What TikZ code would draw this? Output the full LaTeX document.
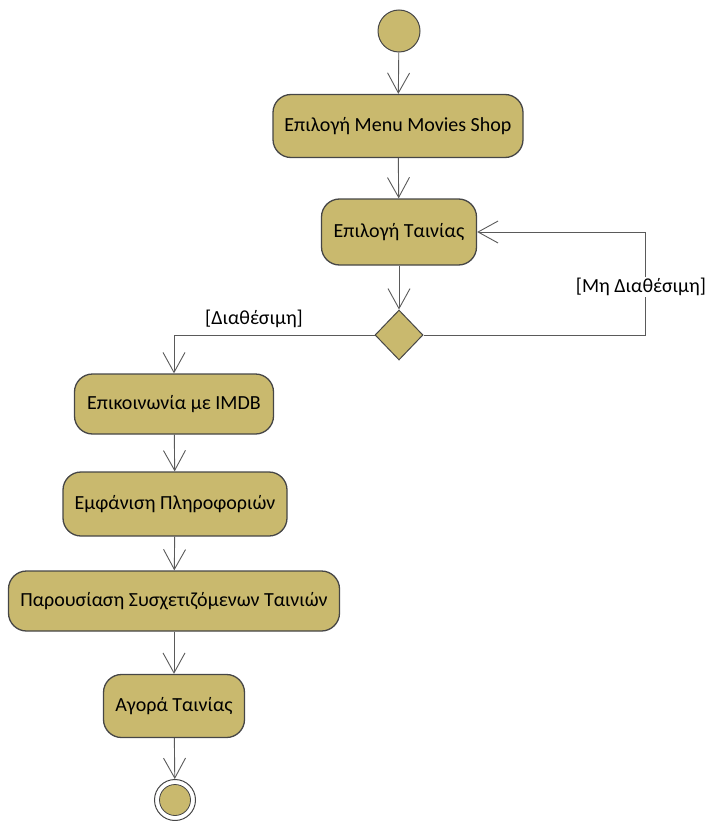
\documentclass[tikz,border=0pt]{standalone}
\usepackage{fontspec}
\setmainfont{Carlito}
\usetikzlibrary{arrows.meta,shapes.geometric}
\definecolor{actfill}{RGB}{201,185,110}
\definecolor{edgecol}{RGB}{70,70,70}
\definecolor{linecol}{RGB}{90,90,90}
\tikzset{
  act/.style={draw=edgecol, line width=1.3pt, fill=actfill, rounded corners=18pt,
    inner sep=0pt, font=\fontsize{20}{24}\selectfont, text=black},
  flow/.style={draw=linecol, line width=0.9pt, -{Straight Barb[length=20pt,width=22pt,line width=0.9pt]}},
  guard/.style={font=\fontsize{20}{24}\selectfont, inner sep=1.5pt, text=black},
  startnode/.style={circle, draw=edgecol, line width=1pt, fill=actfill, minimum size=42pt, inner sep=0pt},
  decnode/.style={diamond, draw=edgecol, line width=1pt, fill=actfill, minimum width=48pt, minimum height=50pt, inner sep=0pt, aspect=1},
}
\begin{document}
\begin{tikzpicture}[x=1pt,y=-1pt]
\useasboundingbox (0,0) rectangle (708,821);
\node[startnode] (start) at (399,31) {};
\node[act, minimum width=250pt, minimum height=63pt] (b1) at (398,126) {Επιλογή Menu Movies Shop};
\node[act, minimum width=155pt, minimum height=66pt] (b2) at (399,232) {Επιλογή Ταινίας};
\node[decnode] (dec) at (399,335) {};
\node[act, minimum width=199pt, minimum height=60pt] (b3) at (174,404) {Επικοινωνία με IMDB};
\node[act, minimum width=224pt, minimum height=64pt] (b4) at (175,504) {Εμφάνιση Πληροφοριών};
\node[act, minimum width=331pt, minimum height=60pt] (b5) at (174,601) {Παρουσίαση Συσχετιζόμενων Ταινιών};
\node[act, minimum width=141pt, minimum height=63pt] (b6) at (174,706) {Αγορά Ταινίας};
\node[circle, draw=edgecol, line width=1pt, fill=white, minimum size=41pt, inner sep=0pt] (endo) at (175,800) {};
\node[circle, draw=edgecol, line width=0.8pt, fill=actfill, minimum size=31pt, inner sep=0pt] (endi) at (175,800) {};
\coordinate (rc) at (645,232);
\draw[flow] (start) -- (b1);
\draw[flow] (b1) -- (b2);
\draw[flow] (b2) -- (dec);
\draw[flow] (dec.east) -| (rc) -- (b2.east);
\node[guard, fill=white] (lblno) at (641,287) {[Μη Διαθέσιμη]};
\draw[flow] (dec.west) -| (b3.north);
\node[guard] (lblyes) at (254,319) {[Διαθέσιμη]};
\draw[flow] (b3) -- (b4);
\draw[flow] (b4) -- (b5);
\draw[flow] (b5) -- (b6);
\draw[flow] (b6) -- (endo);
\end{tikzpicture}
\end{document}
